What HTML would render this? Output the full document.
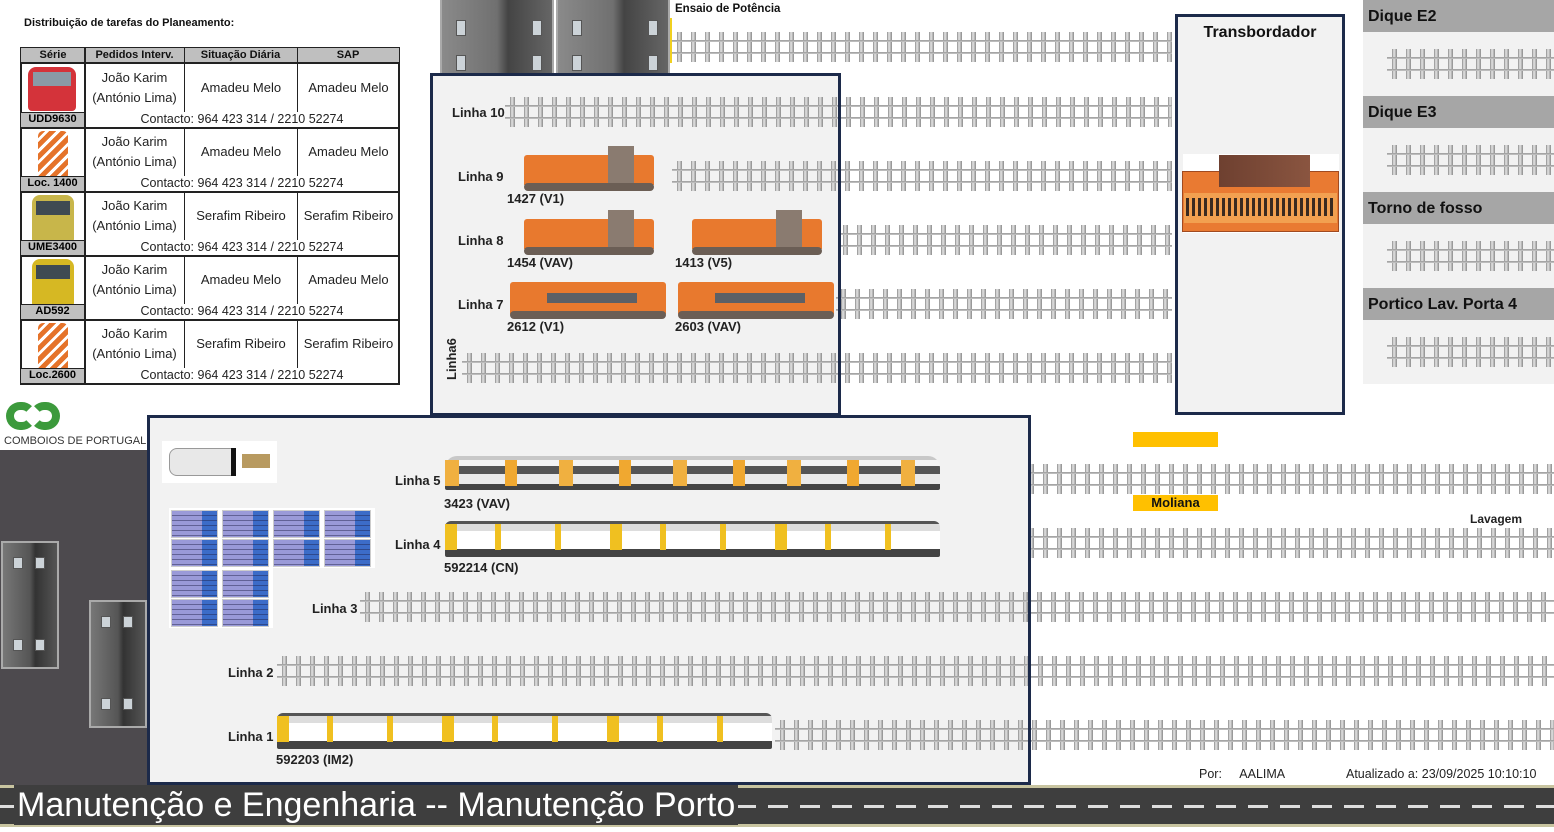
<!DOCTYPE html>
<html><head><meta charset="utf-8">
<style>
*{margin:0;padding:0;box-sizing:border-box}
body{width:1554px;height:832px;position:relative;overflow:hidden;background:#fff;font-family:"Liberation Sans",Arial,sans-serif;}
.a{position:absolute}
.b{font-weight:bold;color:#111}
.trk{position:absolute;height:30px;
background:
linear-gradient(to bottom,transparent 8px,#9a9a9a 8px,#c8c8c8 10px,transparent 10px,transparent 20px,#9a9a9a 20px,#c8c8c8 22px,transparent 22px),
repeating-linear-gradient(90deg,transparent 0 5px,#8c8c8c 5px,#e6e6e6 7px,#8a8a8a 10px,transparent 10px 14px);}
.box{position:absolute;background:#f2f2f2}
.brd{position:absolute;border:3px solid #1c2a4a}
.lbl{position:absolute;font-size:13px;font-weight:bold;color:#222;font-family:"Liberation Sans Narrow","Liberation Sans",sans-serif}
.loco{position:absolute;background:#e8792e;border-radius:3px 3px 0 0}
.wh{position:absolute;background:#6b5e55;height:8px;border-radius:4px}
.bld{position:absolute;background:linear-gradient(90deg,#777,#555 50%,#333 60%,#555);border:2px solid #aaa}
.win{position:absolute;width:10px;height:12px;background:#ccd3d8;border:1px solid #555}
.pn{position:absolute;width:47px;height:28px;background:repeating-linear-gradient(#0000 0 4px,rgba(30,30,70,.45) 4px 5px),linear-gradient(90deg,#9a9ad8 0 30px,#3c6cc8 30px);border:1px solid #ccc}
</style></head><body>

<div class="a b" style="left:24px;top:17px;font-size:11px">Distribuição de tarefas do Planeamento:</div>
<div class="a" style="left:20px;top:47px;width:380px;height:338px;border:2px solid #222;background:#fff"></div>
<div class="a" style="left:21px;top:48px;width:378px;height:16px;background:#bfbfbf;border-bottom:2px solid #222"></div>
<div class="a b" style="left:21px;top:49px;width:64px;text-align:center;font-size:11px">Série</div>
<div class="a b" style="left:85px;top:49px;width:99px;text-align:center;font-size:11px">Pedidos Interv.</div>
<div class="a b" style="left:184px;top:49px;width:113px;text-align:center;font-size:11px">Situação Diária</div>
<div class="a b" style="left:297px;top:49px;width:102px;text-align:center;font-size:11px">SAP</div>
<div class="a" style="left:84px;top:48px;width:2px;height:336px;background:#222"></div>
<div class="a" style="left:184px;top:48px;width:1px;height:16px;background:#222"></div>
<div class="a" style="left:297px;top:48px;width:1px;height:16px;background:#222"></div>

<div class="a" style="left:28px;top:67px;width:48px;height:44px;background:#d4333a;border-radius:8px 8px 4px 4px"></div>
<div class="a" style="left:33px;top:72px;width:38px;height:14px;background:#8a9aa6"></div>
<div class="a" style="left:38px;top:131px;width:30px;height:46px;background:repeating-linear-gradient(135deg,#e5732a 0 5px,#fff 5px 8px);border-radius:5px 5px 2px 2px"></div>
<div class="a" style="left:32px;top:195px;width:42px;height:46px;background:#c8b64a;border-radius:8px 8px 2px 2px"></div>
<div class="a" style="left:36px;top:201px;width:34px;height:14px;background:#3f4a52"></div>
<div class="a" style="left:32px;top:259px;width:42px;height:46px;background:#d6b823;border-radius:8px 8px 2px 2px"></div>
<div class="a" style="left:36px;top:265px;width:34px;height:14px;background:#3f4a52"></div>
<div class="a" style="left:38px;top:323px;width:30px;height:46px;background:repeating-linear-gradient(135deg,#e5732a 0 5px,#fff 5px 8px);border-radius:5px 5px 2px 2px"></div>

<div class="a" style="left:21px;top:64px;width:378px;height:320px">
  <div class="a" style="left:0;top:63px;width:378px;height:2px;background:#222"></div>
  <div class="a" style="left:0;top:127px;width:378px;height:2px;background:#222"></div>
  <div class="a" style="left:0;top:191px;width:378px;height:2px;background:#222"></div>
  <div class="a" style="left:0;top:255px;width:378px;height:2px;background:#222"></div>
</div>

<div class="a" style="left:21px;top:64px">
 <div class="a" style="top:0">
  <div class="a" style="left:163px;top:0;width:1px;height:48px;background:#222"></div>
  <div class="a" style="left:276px;top:0;width:1px;height:48px;background:#222"></div>
  <div class="a" style="left:64px;top:4px;width:99px;text-align:center;font-size:13px;line-height:20px;color:#222">João Karim<br>(António Lima)</div>
  <div class="a" style="left:164px;top:16px;width:112px;text-align:center;font-size:13px;color:#222">Amadeu Melo</div>
  <div class="a" style="left:277px;top:16px;width:101px;text-align:center;font-size:13px;color:#222">Amadeu Melo</div>
  <div class="a" style="left:64px;top:48px;width:314px;text-align:center;font-size:12.5px;color:#222">Contacto: 964 423 314 / 2210 52274</div>
  <div class="a" style="left:0;top:48px;width:63px;height:15px;background:#bfbfbf;border-top:1px solid #222;font-size:11px;font-weight:bold;text-align:center">UDD9630</div>
 </div>
 <div class="a" style="top:64px">
  <div class="a" style="left:163px;top:0;width:1px;height:48px;background:#222"></div>
  <div class="a" style="left:276px;top:0;width:1px;height:48px;background:#222"></div>
  <div class="a" style="left:64px;top:4px;width:99px;text-align:center;font-size:13px;line-height:20px;color:#222">João Karim<br>(António Lima)</div>
  <div class="a" style="left:164px;top:16px;width:112px;text-align:center;font-size:13px;color:#222">Amadeu Melo</div>
  <div class="a" style="left:277px;top:16px;width:101px;text-align:center;font-size:13px;color:#222">Amadeu Melo</div>
  <div class="a" style="left:64px;top:48px;width:314px;text-align:center;font-size:12.5px;color:#222">Contacto: 964 423 314 / 2210 52274</div>
  <div class="a" style="left:0;top:48px;width:63px;height:15px;background:#bfbfbf;border-top:1px solid #222;font-size:11px;font-weight:bold;text-align:center">Loc. 1400</div>
 </div>
 <div class="a" style="top:128px">
  <div class="a" style="left:163px;top:0;width:1px;height:48px;background:#222"></div>
  <div class="a" style="left:276px;top:0;width:1px;height:48px;background:#222"></div>
  <div class="a" style="left:64px;top:4px;width:99px;text-align:center;font-size:13px;line-height:20px;color:#222">João Karim<br>(António Lima)</div>
  <div class="a" style="left:164px;top:16px;width:112px;text-align:center;font-size:13px;color:#222">Serafim Ribeiro</div>
  <div class="a" style="left:277px;top:16px;width:101px;text-align:center;font-size:13px;color:#222">Serafim Ribeiro</div>
  <div class="a" style="left:64px;top:48px;width:314px;text-align:center;font-size:12.5px;color:#222">Contacto: 964 423 314 / 2210 52274</div>
  <div class="a" style="left:0;top:48px;width:63px;height:15px;background:#bfbfbf;border-top:1px solid #222;font-size:11px;font-weight:bold;text-align:center">UME3400</div>
 </div>
 <div class="a" style="top:192px">
  <div class="a" style="left:163px;top:0;width:1px;height:48px;background:#222"></div>
  <div class="a" style="left:276px;top:0;width:1px;height:48px;background:#222"></div>
  <div class="a" style="left:64px;top:4px;width:99px;text-align:center;font-size:13px;line-height:20px;color:#222">João Karim<br>(António Lima)</div>
  <div class="a" style="left:164px;top:16px;width:112px;text-align:center;font-size:13px;color:#222">Amadeu Melo</div>
  <div class="a" style="left:277px;top:16px;width:101px;text-align:center;font-size:13px;color:#222">Amadeu Melo</div>
  <div class="a" style="left:64px;top:48px;width:314px;text-align:center;font-size:12.5px;color:#222">Contacto: 964 423 314 / 2210 52274</div>
  <div class="a" style="left:0;top:48px;width:63px;height:15px;background:#bfbfbf;border-top:1px solid #222;font-size:11px;font-weight:bold;text-align:center">AD592</div>
 </div>
 <div class="a" style="top:256px">
  <div class="a" style="left:163px;top:0;width:1px;height:48px;background:#222"></div>
  <div class="a" style="left:276px;top:0;width:1px;height:48px;background:#222"></div>
  <div class="a" style="left:64px;top:4px;width:99px;text-align:center;font-size:13px;line-height:20px;color:#222">João Karim<br>(António Lima)</div>
  <div class="a" style="left:164px;top:16px;width:112px;text-align:center;font-size:13px;color:#222">Serafim Ribeiro</div>
  <div class="a" style="left:277px;top:16px;width:101px;text-align:center;font-size:13px;color:#222">Serafim Ribeiro</div>
  <div class="a" style="left:64px;top:48px;width:314px;text-align:center;font-size:12.5px;color:#222">Contacto: 964 423 314 / 2210 52274</div>
  <div class="a" style="left:0;top:48px;width:63px;height:15px;background:#bfbfbf;border-top:1px solid #222;font-size:11px;font-weight:bold;text-align:center">Loc.2600</div>
 </div>
</div>

<div class="a" style="left:6px;top:402px;width:30px;height:28px;border:8px solid #3c9a3c;border-radius:14px;border-right-color:transparent"></div>
<div class="a" style="left:30px;top:402px;width:30px;height:28px;border:8px solid #3c9a3c;border-radius:14px;border-left-color:transparent"></div>
<div class="a" style="left:4px;top:435px;font-size:11px;color:#333">COMBOIOS DE PORTUGAL</div>

<div class="a" style="left:0;top:450px;width:148px;height:338px;background:#4d4a4e"></div>
<div class="bld" style="left:1px;top:541px;width:58px;height:128px"><div class="win" style="left:10px;top:14px"></div><div class="win" style="left:32px;top:14px"></div><div class="win" style="left:10px;top:96px"></div><div class="win" style="left:32px;top:96px"></div></div>
<div class="bld" style="left:89px;top:600px;width:58px;height:128px"><div class="win" style="left:10px;top:14px"></div><div class="win" style="left:32px;top:14px"></div><div class="win" style="left:10px;top:96px"></div><div class="win" style="left:32px;top:96px"></div></div>

<div class="bld" style="left:440px;top:0;width:114px;height:76px;border-top:none;background:linear-gradient(90deg,#8a8a8a,#707070 50%,#444 60%,#666)"><div class="win" style="left:14px;top:20px;height:16px"></div><div class="win" style="left:90px;top:20px;height:16px"></div><div class="win" style="left:14px;top:55px;height:16px"></div><div class="win" style="left:90px;top:55px;height:16px"></div></div>
<div class="bld" style="left:556px;top:0;width:114px;height:76px;border-top:none;background:linear-gradient(90deg,#8a8a8a,#707070 50%,#444 60%,#666)"><div class="win" style="left:14px;top:20px;height:16px"></div><div class="win" style="left:90px;top:20px;height:16px"></div><div class="win" style="left:14px;top:55px;height:16px"></div><div class="win" style="left:90px;top:55px;height:16px"></div></div>
<div class="a" style="left:670px;top:18px;width:2px;height:45px;background:#f0d020"></div>
<div class="a b" style="left:675px;top:3px;font-size:11.5px">Ensaio de Potência</div>
<div class="trk" style="left:672px;top:32px;width:500px"></div>

<div class="box" style="left:430px;top:73px;width:411px;height:343px"></div>
<div class="trk" style="left:505px;top:97px;width:667px"></div>
<div class="trk" style="left:672px;top:161px;width:500px"></div>
<div class="trk" style="left:838px;top:225px;width:334px"></div>
<div class="trk" style="left:836px;top:289px;width:336px"></div>
<div class="trk" style="left:462px;top:353px;width:710px"></div>
<div class="brd" style="left:430px;top:73px;width:411px;height:343px"></div>
<div class="lbl" style="left:452px;top:105px">Linha 10</div>
<div class="lbl" style="left:458px;top:169px">Linha 9</div>
<div class="lbl" style="left:458px;top:233px">Linha 8</div>
<div class="lbl" style="left:458px;top:297px">Linha 7</div>
<div class="lbl" style="left:444px;top:380px;transform:rotate(-90deg);transform-origin:0 0">Linha6</div>

<div class="loco" style="left:524px;top:155px;width:130px;height:30px"></div>
<div class="a" style="left:608px;top:146px;width:26px;height:39px;background:#8a7b70"></div>
<div class="wh" style="left:524px;top:183px;width:130px"></div>
<div class="lbl" style="left:507px;top:191px">1427 (V1)</div>

<div class="loco" style="left:524px;top:219px;width:130px;height:30px"></div>
<div class="a" style="left:608px;top:210px;width:26px;height:39px;background:#8a7b70"></div>
<div class="wh" style="left:524px;top:247px;width:130px"></div>
<div class="lbl" style="left:507px;top:255px">1454 (VAV)</div>

<div class="loco" style="left:692px;top:219px;width:130px;height:30px"></div>
<div class="a" style="left:776px;top:210px;width:26px;height:39px;background:#8a7b70"></div>
<div class="wh" style="left:692px;top:247px;width:130px"></div>
<div class="lbl" style="left:675px;top:255px">1413 (V5)</div>

<div class="loco" style="left:510px;top:282px;width:156px;height:32px"></div>
<div class="a" style="left:547px;top:293px;width:90px;height:10px;background:#5c6066"></div>
<div class="wh" style="left:510px;top:311px;width:156px"></div>
<div class="lbl" style="left:507px;top:319px">2612 (V1)</div>
<div class="loco" style="left:678px;top:282px;width:156px;height:32px"></div>
<div class="a" style="left:715px;top:293px;width:90px;height:10px;background:#5c6066"></div>
<div class="wh" style="left:678px;top:311px;width:156px"></div>
<div class="lbl" style="left:675px;top:319px">2603 (VAV)</div>

<div class="box" style="left:1175px;top:14px;width:170px;height:401px"></div>
<div class="brd" style="left:1175px;top:14px;width:170px;height:401px"></div>
<div class="a b" style="left:1175px;top:24px;width:170px;text-align:center;font-size:16px">Transbordador</div>
<div class="a" style="left:1183px;top:154px;width:156px;height:79px;background:#fff"></div>
<div class="a" style="left:1182px;top:171px;width:157px;height:61px;background:#e97a32;border:1px solid #a04a20"></div>
<div class="a" style="left:1219px;top:155px;width:91px;height:32px;background:linear-gradient(90deg,#6e4030,#8a5540)"></div>
<div class="a" style="left:1184px;top:193px;width:153px;height:30px;background:#f2a050"></div>
<div class="a" style="left:1186px;top:198px;width:150px;height:18px;background:repeating-linear-gradient(90deg,#3a2a20 0 3px,transparent 3px 6px)"></div>

<div class="box" style="left:1363px;top:0;width:191px;height:384px"></div>
<div class="a b" style="left:1363px;top:0;width:191px;height:32px;background:#a6a6a6;font-size:16px;padding:8px 0 0 5px">Dique E2</div>
<div class="a b" style="left:1363px;top:96px;width:191px;height:32px;background:#a6a6a6;font-size:16px;padding:8px 0 0 5px">Dique E3</div>
<div class="a b" style="left:1363px;top:192px;width:191px;height:32px;background:#a6a6a6;font-size:16px;padding:8px 0 0 5px">Torno de fosso</div>
<div class="a b" style="left:1363px;top:288px;width:191px;height:32px;background:#a6a6a6;font-size:16px;padding:8px 0 0 5px">Portico Lav. Porta 4</div>
<div class="trk" style="left:1387px;top:49px;width:167px"></div>
<div class="trk" style="left:1387px;top:145px;width:167px"></div>
<div class="trk" style="left:1387px;top:241px;width:167px"></div>
<div class="trk" style="left:1387px;top:337px;width:167px"></div>

<div class="a" style="left:1133px;top:432px;width:85px;height:15px;background:#ffc000"></div>
<div class="a b" style="left:1133px;top:495px;width:85px;height:16px;background:#ffc000;font-size:13px;text-align:center">Moliana</div>
<div class="lbl" style="left:1470px;top:512px;font-size:12px">Lavagem</div>
<div class="trk" style="left:940px;top:464px;width:614px"></div>
<div class="trk" style="left:940px;top:528px;width:614px"></div>

<div class="box" style="left:147px;top:415px;width:884px;height:370px"></div>
<div class="trk" style="left:360px;top:592px;width:1194px"></div>
<div class="trk" style="left:277px;top:656px;width:1277px"></div>
<div class="trk" style="left:775px;top:720px;width:779px"></div>
<div class="brd" style="left:147px;top:415px;width:884px;height:370px"></div>

<div class="a" style="left:162px;top:441px;width:115px;height:42px;background:#fff"></div>
<div class="a" style="left:169px;top:448px;width:64px;height:28px;background:#e8e8e8;border:1px solid #999;border-radius:8px 2px 2px 8px"></div>
<div class="a" style="left:231px;top:448px;width:5px;height:28px;background:#111"></div>
<div class="a" style="left:242px;top:454px;width:28px;height:14px;background:#b89a60"></div>

<div class="a" style="left:169px;top:508px;width:206px;height:60px;background:#fff"></div>
<div class="a" style="left:169px;top:568px;width:104px;height:60px;background:#fff"></div>
<div class="pn" style="left:171px;top:510px"></div><div class="pn" style="left:222px;top:510px"></div><div class="pn" style="left:273px;top:510px"></div><div class="pn" style="left:324px;top:510px"></div>
<div class="pn" style="left:171px;top:539px"></div><div class="pn" style="left:222px;top:539px"></div><div class="pn" style="left:273px;top:539px"></div><div class="pn" style="left:324px;top:539px"></div>
<div class="pn" style="left:171px;top:570px"></div><div class="pn" style="left:222px;top:570px"></div>
<div class="pn" style="left:171px;top:599px"></div><div class="pn" style="left:222px;top:599px"></div>

<div class="a" style="left:445px;top:456px;width:495px;height:34px;background:linear-gradient(#c8c8c8 0 4px,#f4f4f4 4px 10px,#555 10px 18px,#eaeaea 18px 28px,#444 28px);border-radius:12px 12px 2px 2px"></div>
<div class="a" style="left:445px;top:460px;width:495px;height:26px;background:repeating-linear-gradient(90deg,#f0b040 0 14px,transparent 14px 60px,#f0a830 60px 72px,transparent 72px 114px)"></div>
<div class="lbl" style="left:444px;top:496px">3423 (VAV)</div>
<div class="lbl" style="left:395px;top:473px">Linha 5</div>

<div class="a" style="left:445px;top:521px;width:495px;height:36px;background:linear-gradient(#555 0 3px,#ddd 3px 10px,#fff 10px 28px,#444 28px);border-radius:6px 6px 2px 2px"></div>
<div class="a" style="left:445px;top:524px;width:495px;height:26px;background:repeating-linear-gradient(90deg,#f0c020 0 12px,transparent 12px 50px,#f0c020 50px 56px,transparent 56px 110px,#f0c020 110px 116px,transparent 116px 165px)"></div>
<div class="lbl" style="left:444px;top:560px">592214 (CN)</div>
<div class="lbl" style="left:395px;top:537px">Linha 4</div>

<div class="lbl" style="left:312px;top:601px">Linha 3</div>
<div class="lbl" style="left:228px;top:665px">Linha 2</div>

<div class="a" style="left:277px;top:713px;width:495px;height:36px;background:linear-gradient(#555 0 3px,#ddd 3px 10px,#fff 10px 28px,#444 28px);border-radius:6px 6px 2px 2px"></div>
<div class="a" style="left:277px;top:716px;width:495px;height:26px;background:repeating-linear-gradient(90deg,#f0c020 0 12px,transparent 12px 50px,#f0c020 50px 56px,transparent 56px 110px,#f0c020 110px 116px,transparent 116px 165px)"></div>
<div class="lbl" style="left:276px;top:752px">592203 (IM2)</div>
<div class="lbl" style="left:228px;top:729px">Linha 1</div>

<div class="a" style="left:1199px;top:767px;font-size:12.5px;color:#222">Por:&nbsp;&nbsp;&nbsp;&nbsp;&nbsp;AALIMA</div>
<div class="a" style="left:1346px;top:767px;font-size:12.5px;color:#222">Atualizado a: 23/09/2025 10:10:10</div>

<div class="a" style="left:0;top:785px;width:1554px;height:42px;background:#3e3e3e;border-top:3px solid #c8c4a0;border-bottom:3px solid #c8c4a0"></div>
<div class="a" style="left:0;top:805px;width:1554px;height:3px;background:repeating-linear-gradient(90deg,#ddd 0 20px,transparent 20px 32px)"></div>
<div class="a" style="left:14px;top:785px;font-size:34px;color:#fff;font-family:'Liberation Sans',sans-serif;background:#3e3e3e;padding:0 3px;line-height:40px">Manutenção e Engenharia -- Manutenção Porto</div>

</body></html>
